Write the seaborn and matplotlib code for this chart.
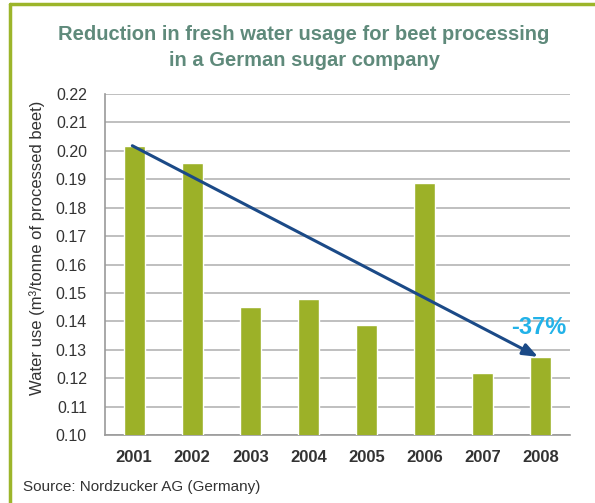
import numpy as np
import pandas as pd
import matplotlib
matplotlib.use("Agg")
import matplotlib.pyplot as plt
from matplotlib.lines import Line2D
from matplotlib.ticker import FixedLocator, FormatStrFormatter
import seaborn as sns

# data
years = ["2001", "2002", "2003", "2004", "2005", "2006", "2007", "2008"]
water_use = [0.2018, 0.1958, 0.1449, 0.1477, 0.1386, 0.1888, 0.1218, 0.1275]
y_ticks = [0.10, 0.11, 0.12, 0.13, 0.14, 0.15, 0.16, 0.17, 0.18, 0.19, 0.20, 0.21, 0.22]
reduction_label = "-37%"

title = "Reduction in fresh water usage for beet processing\nin a German sugar company"
ylabel = "Water use (m³/tonne of processed beet)"
source = "Source: Nordzucker AG (Germany)"

bar_color = "#9cb128"
title_color = "#5f8a7b"
arrow_color = "#1b4a87"
pct_color = "#22b2e8"
frame_color = "#9cb52a"
grid_color = "#b4b4b4"
text_color = "#333333"

sns.set_style("white")
plt.rcParams['font.family'] = ['Liberation Sans', 'DejaVu Sans']

df = pd.DataFrame({"year": years, "use": water_use})

fig = plt.figure(figsize=(5.95, 5.03), dpi=100)
ax = fig.add_axes([0.1765, 0.1352, 0.958 - 0.1765, 0.8131 - 0.1352])

sns.barplot(data=df, x="year", y="use", color=bar_color, width=0.36,
            saturation=1, ax=ax, zorder=3)

ax.set_xlim(-0.5, len(years) - 0.5)
ax.set_ylim(y_ticks[0], y_ticks[-1])
ax.set_yticks(y_ticks)
ax.yaxis.set_major_formatter(FormatStrFormatter("%.2f"))
ax.yaxis.grid(True, color=grid_color, lw=1.2, zorder=0)
ax.set_axisbelow(True)

for s in ["top", "right"]:
    ax.spines[s].set_visible(False)
for s in ["left", "bottom"]:
    ax.spines[s].set_color("#999999")
    ax.spines[s].set_linewidth(1.2)

ax.tick_params(axis="y", length=5, width=1, color="#999999", labelsize=11.5,
               labelcolor=text_color, pad=8)
ax.tick_params(axis="x", which="major", length=0, labelsize=12,
               labelcolor=text_color, pad=11)
for lab in ax.get_xticklabels():
    lab.set_fontweight("bold")
ax.xaxis.set_minor_locator(FixedLocator(np.arange(-0.5, len(years), 1.0)))
ax.tick_params(axis="x", which="minor", direction="inout", length=10, width=1,
               color="#999999")

ax.set_xlabel("")
ax.set_ylabel(ylabel, fontsize=12, color=text_color)
ax.yaxis.set_label_coords(-0.13, 0.55)

# trend arrow from first to last bar
ax.annotate("", xy=(7 - 0.05, water_use[-1]), xytext=(0 - 0.03, water_use[0]),
            arrowprops=dict(arrowstyle="-|>,head_length=0.9,head_width=0.35",
                            color=arrow_color, lw=2.2, shrinkA=0, shrinkB=0),
            zorder=5)
ax.text(6.97, 0.138, reduction_label, color=pct_color, fontsize=17,
        fontweight="bold", ha="center", va="center", zorder=6)

fig.text(0.511, 0.905, title, ha="center", va="center", fontsize=14.5,
         fontweight="bold", color=title_color, linespacing=1.45)
fig.text(0.039, 0.032, source, ha="left", va="center", fontsize=11,
         color=text_color)

# green frame on top and left
fig.add_artist(Line2D([10 / 595, 1], [1 - 4 / 503, 1 - 4 / 503],
                      transform=fig.transFigure, color=frame_color, lw=2.5))
fig.add_artist(Line2D([10 / 595, 10 / 595], [0, 1 - 4 / 503],
                      transform=fig.transFigure, color=frame_color, lw=2.5))

fig.savefig("out.png", dpi=100)
